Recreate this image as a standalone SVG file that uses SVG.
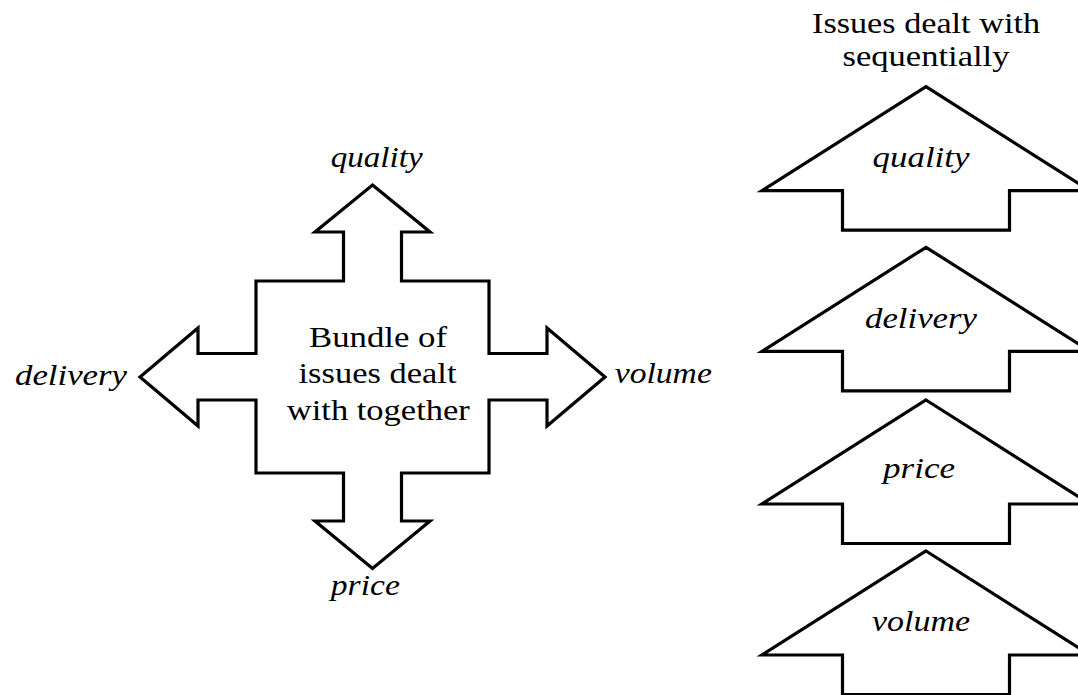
<svg xmlns="http://www.w3.org/2000/svg" width="1078" height="695" viewBox="0 0 1078 695">
  <style>
    .shape { fill: #ffffff; stroke: #000000; stroke-width: 3.2; stroke-linejoin: miter; }
    .txt { font-family: 'Liberation Serif', 'Times New Roman', Times, serif; font-size: 29px; fill: #000000; text-anchor: middle; }
    .it { font-style: italic; }
  </style>
  <defs>
    <!-- block arrow pointing up, tip at y=0 -->
    <path id="upArrow" d="M926,0 L1090,104 L1009.5,104 L1009.5,143.5 L842.5,143.5 L842.5,104 L762,104 Z"/>
  </defs>
  <rect width="1078" height="695" fill="#ffffff"/>

  <!-- Left: bundle of issues, four-way arrow -->
  <g id="bundle">
    <path class="shape" d="M372.5,185 L430,232 L401.5,232 L401.5,281 L489,281 L489,353.5 L547,353.5 L547,328 L605,377 L547,426 L547,400 L489,400 L489,473 L401.5,473 L401.5,521 L430,521 L372.5,568.5 L315,521 L343.5,521 L343.5,473 L256,473 L256,400 L198,400 L198,426 L140,377 L198,328 L198,353.5 L256,353.5 L256,281 L343.5,281 L343.5,232 L315,232 Z"/>
    <text class="txt" x="378" y="346.5" textLength="138" lengthAdjust="spacingAndGlyphs">Bundle of</text>
    <text class="txt" x="377.5" y="383" textLength="158" lengthAdjust="spacingAndGlyphs">issues dealt</text>
    <text class="txt" x="378.3" y="420" textLength="183" lengthAdjust="spacingAndGlyphs">with together</text>
  </g>
  <g id="bundle-labels">
    <text class="txt it" x="376.7" y="166.5" textLength="92" lengthAdjust="spacingAndGlyphs">quality</text>
    <text class="txt it" x="365.3" y="595" textLength="69" lengthAdjust="spacingAndGlyphs">price</text>
    <text class="txt it" x="71" y="385" textLength="112" lengthAdjust="spacingAndGlyphs">delivery</text>
    <text class="txt it" x="663.3" y="383" textLength="97" lengthAdjust="spacingAndGlyphs">volume</text>
  </g>

  <!-- Right: issues dealt with one after another -->
  <g id="sequence-title">
    <text class="txt" x="926" y="33" textLength="228" lengthAdjust="spacingAndGlyphs">Issues dealt with</text>
    <text class="txt" x="926" y="66" textLength="167" lengthAdjust="spacingAndGlyphs">sequentially</text>
  </g>
  <g id="seq-quality">
    <use href="#upArrow" class="shape" transform="translate(0,86.7)"/>
    <text class="txt it" x="921" y="166.5" textLength="97" lengthAdjust="spacingAndGlyphs">quality</text>
  </g>
  <g id="seq-delivery">
    <use href="#upArrow" class="shape" transform="translate(0,247.3)"/>
    <text class="txt it" x="921" y="328" textLength="112" lengthAdjust="spacingAndGlyphs">delivery</text>
  </g>
  <g id="seq-price">
    <use href="#upArrow" class="shape" transform="translate(0,400)"/>
    <text class="txt it" x="919" y="478" textLength="72" lengthAdjust="spacingAndGlyphs">price</text>
  </g>
  <g id="seq-volume">
    <use href="#upArrow" class="shape" transform="translate(0,551)"/>
    <text class="txt it" x="921" y="630.5" textLength="98" lengthAdjust="spacingAndGlyphs">volume</text>
  </g>
  <g id="connectors"/>
</svg>
